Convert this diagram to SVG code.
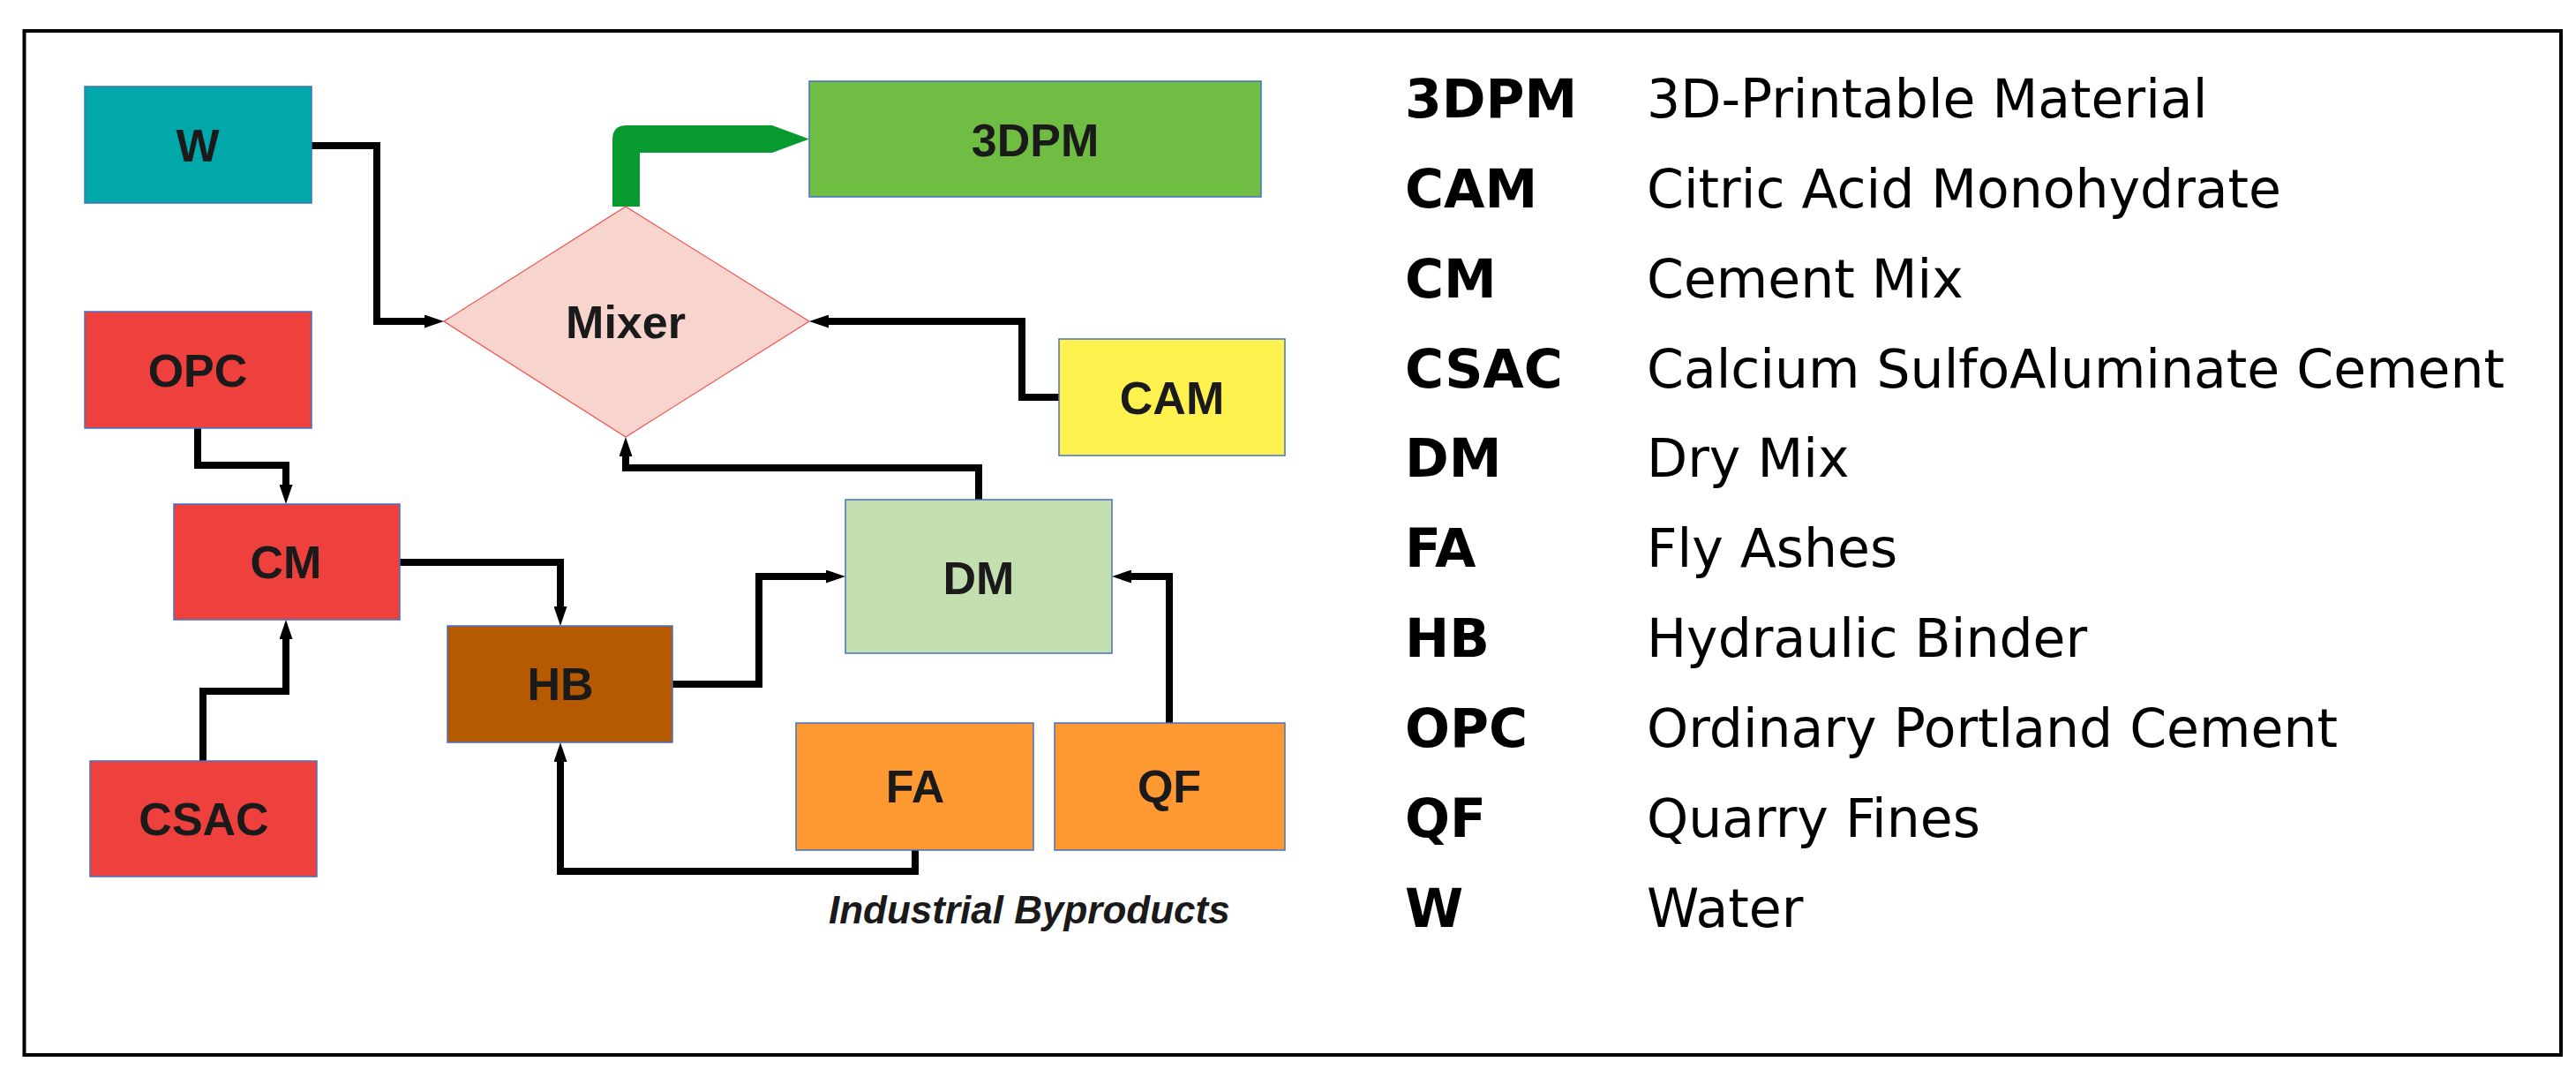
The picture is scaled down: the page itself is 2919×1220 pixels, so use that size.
<svg xmlns="http://www.w3.org/2000/svg" width="2919" height="1220" viewBox="0 0 2919 1220">
<defs>
<style>
.box{stroke:#4472C4;stroke-width:1.5}
.lbl{font-family:"Liberation Sans",Arial,sans-serif;font-weight:bold;font-size:52px;fill:#1a1a1a;text-anchor:middle}
.conn{fill:none;stroke:#000;stroke-width:8;stroke-linejoin:miter;stroke-linecap:butt}
.ab{font-family:"DejaVu Sans",sans-serif;font-weight:bold;font-size:60px;fill:#000}
.ds{font-family:"DejaVu Sans",sans-serif;font-size:60px;fill:#000}
.note{font-family:"Liberation Sans",Arial,sans-serif;font-weight:bold;font-style:italic;font-size:44px;fill:#1a1a1a}
</style>
<marker id="arr" markerUnits="userSpaceOnUse" markerWidth="22" markerHeight="15" refX="2" refY="7.5" orient="auto" viewBox="0 0 22 15">
<path d="M0,0 L22,7.5 L0,15 Z" fill="#000"/>
</marker>
</defs>
<rect x="0" y="0" width="2919" height="1220" fill="#fff"/>
<rect id="frame" x="27.5" y="35" width="2874.5" height="1160" fill="none" stroke="#000" stroke-width="4"/>

<g id="connectors">
<path class="conn" d="M352,165 H427 V364 H483" marker-end="url(#arr)"/>
<path class="conn" d="M1200,450 H1158 V364 H937" marker-end="url(#arr)"/>
<path class="conn" d="M1109,566 V530 H709 V515" marker-end="url(#arr)"/>
<path class="conn" d="M224,485 V527 H324 V551" marker-end="url(#arr)"/>
<path class="conn" d="M230,862 V783 H324 V722" marker-end="url(#arr)"/>
<path class="conn" d="M453,637 H635 V689" marker-end="url(#arr)"/>
<path class="conn" d="M762,775 H860 V653 H938" marker-end="url(#arr)"/>
<path class="conn" d="M1325,819 V653 H1280" marker-end="url(#arr)"/>
<path class="conn" d="M1037,963 V987 H635 V861" marker-end="url(#arr)"/>
<path id="out-arrow" d="M694,234 V158 Q694,142 710,142 H875 L917,157.5 L875,173 H725 V234 Z" fill="#089A2F"/>
</g>

<g id="node-W"><rect class="box" x="96" y="98" width="257" height="132" fill="#00A8AA"/><text class="lbl" x="224" y="183">W</text></g>
<g id="node-OPC"><rect class="box" x="96" y="353" width="257" height="132" fill="#EE403D"/><text class="lbl" x="224" y="438">OPC</text></g>
<g id="node-CM"><rect class="box" x="197" y="571" width="256" height="131" fill="#EE403D"/><text class="lbl" x="324" y="655">CM</text></g>
<g id="node-CSAC"><rect class="box" x="102" y="862" width="257" height="131" fill="#EE403D"/><text class="lbl" x="231" y="946">CSAC</text></g>
<g id="node-HB"><rect class="box" x="507" y="709" width="255" height="132" fill="#B55A00"/><text class="lbl" x="635" y="793">HB</text></g>
<g id="node-Mixer"><polygon points="503,364 709,234 917,364 709,495" fill="#F8D4CE" stroke="#F0504A" stroke-width="1.2"/><text class="lbl" x="709" y="383">Mixer</text></g>
<g id="node-3DPM"><rect class="box" x="917" y="92" width="512" height="131" fill="#70BD43"/><text class="lbl" x="1173" y="177">3DPM</text></g>
<g id="node-CAM"><rect class="box" x="1200" y="384" width="256" height="132" fill="#FFF24F"/><text class="lbl" x="1328" y="469">CAM</text></g>
<g id="node-DM"><rect class="box" x="958" y="566" width="302" height="174" fill="#C3DFAF"/><text class="lbl" x="1109" y="673">DM</text></g>
<g id="node-FA"><rect class="box" x="902" y="819" width="269" height="144" fill="#FE9830"/><text class="lbl" x="1037" y="909">FA</text></g>
<g id="node-QF"><rect class="box" x="1195" y="819" width="261" height="144" fill="#FE9830"/><text class="lbl" x="1325" y="909">QF</text></g>
<text class="note" x="939" y="1046">Industrial Byproducts</text>

<g id="legend">
<text class="ab" x="1592" y="133">3DPM</text><text class="ds" x="1866" y="133">3D-Printable Material</text>
<text class="ab" x="1592" y="235">CAM</text><text class="ds" x="1866" y="235">Citric Acid Monohydrate</text>
<text class="ab" x="1592" y="337">CM</text><text class="ds" x="1866" y="337">Cement Mix</text>
<text class="ab" x="1592" y="439">CSAC</text><text class="ds" x="1866" y="439">Calcium SulfoAluminate Cement</text>
<text class="ab" x="1592" y="540">DM</text><text class="ds" x="1866" y="540">Dry Mix</text>
<text class="ab" x="1592" y="642">FA</text><text class="ds" x="1866" y="642">Fly Ashes</text>
<text class="ab" x="1592" y="744">HB</text><text class="ds" x="1866" y="744">Hydraulic Binder</text>
<text class="ab" x="1592" y="846">OPC</text><text class="ds" x="1866" y="846">Ordinary Portland Cement</text>
<text class="ab" x="1592" y="948">QF</text><text class="ds" x="1866" y="948">Quarry Fines</text>
<text class="ab" x="1592" y="1050">W</text><text class="ds" x="1866" y="1050">Water</text>
</g>
</svg>
